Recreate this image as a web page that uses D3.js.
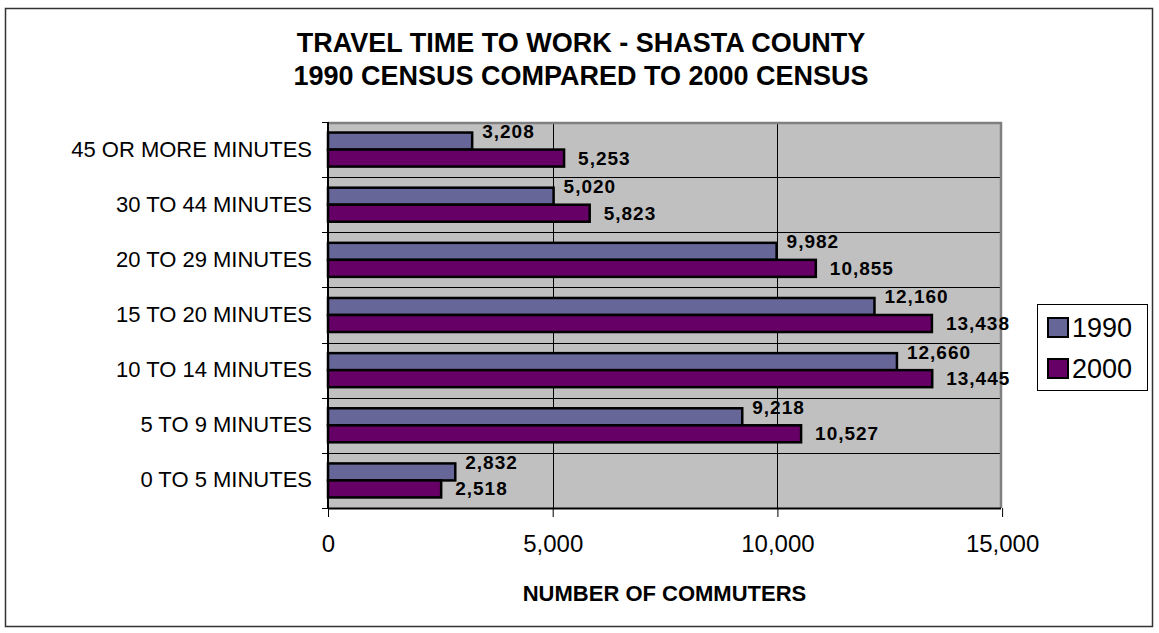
<!DOCTYPE html>
<html>
<head>
<meta charset="utf-8">
<script src="https://cdn.jsdelivr.net/npm/d3@7"></script>
<style>
  html, body { margin: 0; padding: 0; background: #fff; }
  svg { display: block; font-family: "Liberation Sans", Arial, sans-serif; }
</style>
</head>
<body>
<svg id="chart" width="1159" height="633"></svg>
<script>
// ---- data ----
const categories = ["45 OR MORE MINUTES", "30 TO 44 MINUTES", "20 TO 29 MINUTES",
  "15 TO 20 MINUTES", "10 TO 14 MINUTES", "5 TO 9 MINUTES", "0 TO 5 MINUTES"];
const seriesNames = ["1990", "2000"];
const values1990 = [3208, 5020, 9982, 12160, 12660, 9218, 2832];
const values2000 = [5253, 5823, 10855, 13438, 13445, 10527, 2518];
const xTicks = [0, 5000, 10000, 15000];
const titleLines = ["TRAVEL TIME TO WORK - SHASTA COUNTY", "1990 CENSUS COMPARED TO 2000 CENSUS"];
const xAxisTitle = "NUMBER OF COMMUTERS";

const colors = { "1990": "#666699", "2000": "#660066" };

const svg = d3.select("#chart");

// outer border
svg.append("rect").attr("x", 5.5).attr("y", 8.5).attr("width", 1147).attr("height", 618)
  .attr("fill", "#fff").attr("stroke", "#333").attr("stroke-width", 1.5);

const plot = { left: 328, right: 1001, top: 122, bottom: 508 };

const x = d3.scaleLinear().domain([0, 15000]).range([plot.left, plot.left + 3 * 224.7]);
const y = d3.scaleBand().domain(categories).range([plot.top, plot.bottom]).padding(0);
const ySub = d3.scaleBand().domain(seriesNames).range([0, y.bandwidth()]).paddingOuter(0.62).paddingInner(0);

// plot background
svg.append("rect").attr("x", plot.left).attr("y", plot.top)
  .attr("width", plot.right - plot.left).attr("height", plot.bottom - plot.top)
  .attr("fill", "#c0c0c0");

// vertical gridlines
svg.append("g").selectAll("line").data(xTicks.filter(d => d > 0 && d < 15000)).join("line")
  .attr("x1", d => Math.round(x(d)) + 0.5).attr("x2", d => Math.round(x(d)) + 0.5)
  .attr("y1", plot.top).attr("y2", plot.bottom)
  .attr("stroke", "#000").attr("stroke-width", 1);

// horizontal gridlines at category boundaries
const boundaries = categories.slice(1).map(c => y(c));
svg.append("g").selectAll("line").data(boundaries).join("line")
  .attr("x1", plot.left).attr("x2", plot.right)
  .attr("y1", d => Math.round(d) + 0.5).attr("y2", d => Math.round(d) + 0.5)
  .attr("stroke", "#000").attr("stroke-width", 1);

// plot area border (gray, top & right)
svg.append("path")
  .attr("d", `M${plot.left},${plot.top + 1}H${plot.right}V${plot.bottom}`)
  .attr("fill", "none").attr("stroke", "#808080").attr("stroke-width", 2.5);

// bars
const rows = categories.map((c, i) => ({ cat: c, "1990": values1990[i], "2000": values2000[i] }));
const groups = svg.append("g").selectAll("g").data(rows).join("g")
  .attr("transform", d => `translate(0,${y(d.cat)})`);

groups.selectAll("rect").data(d => seriesNames.map(s => ({ s, v: d[s] }))).join("rect")
  .attr("x", x(0))
  .attr("y", d => ySub(d.s))
  .attr("width", d => x(d.v) - x(0))
  .attr("height", ySub.bandwidth())
  .attr("fill", d => colors[d.s])
  .attr("stroke", "#000").attr("stroke-width", 2.5);

// data labels
const fmt = d3.format(",");
groups.selectAll("text").data(d => seriesNames.map(s => ({ s, v: d[s] }))).join("text")
  .attr("x", d => x(d.v) + (d.s === "1990" ? 10 : 14))
  .attr("y", d => d.s === "1990" ? ySub(d.s) - 1 : ySub(d.s) + ySub.bandwidth() / 2)
  .attr("dominant-baseline", "central")
  .attr("font-size", 19).attr("font-weight", "bold").attr("letter-spacing", 1)
  .attr("fill", "#000")
  .text(d => fmt(d.v));

// y axis
const yAxis = d3.axisLeft(y).tickSize(0).tickPadding(16);
const yg = svg.append("g").attr("transform", `translate(${plot.left},0)`).call(yAxis);
yg.select(".domain").remove();
yg.selectAll("text").attr("font-size", 22).attr("font-family", "Liberation Sans, Arial, sans-serif").attr("fill", "#000");
// y axis line and boundary ticks
svg.append("line").attr("x1", plot.left).attr("x2", plot.left)
  .attr("y1", plot.top).attr("y2", plot.bottom).attr("stroke", "#000").attr("stroke-width", 2);
svg.append("g").selectAll("line").data([plot.top, ...boundaries, plot.bottom]).join("line")
  .attr("x1", plot.left - 6).attr("x2", plot.left)
  .attr("y1", d => Math.round(d) + 0.5).attr("y2", d => Math.round(d) + 0.5)
  .attr("stroke", "#000").attr("stroke-width", 1);

// x axis
const xAxis = d3.axisBottom(x).tickValues(xTicks).tickFormat(fmt).tickSize(9).tickPadding(18);
const xg = svg.append("g").attr("transform", `translate(0,${plot.bottom})`).call(xAxis);
xg.select(".domain").attr("d", `M${plot.left},0.5H${plot.right}`).attr("stroke", "#000").attr("stroke-width", 2);
xg.selectAll(".tick line").attr("stroke", "#000");
xg.selectAll("text").attr("font-size", 24).attr("font-family", "Liberation Sans, Arial, sans-serif").attr("fill", "#000");

// x axis title
svg.append("text").attr("x", (plot.left + plot.right) / 2).attr("y", 593)
  .attr("text-anchor", "middle").attr("dominant-baseline", "central")
  .attr("font-size", 22).attr("font-weight", "bold").text(xAxisTitle);

// title
svg.append("g").selectAll("text").data(titleLines).join("text")
  .attr("x", 581).attr("y", (d, i) => 43 + i * 33)
  .attr("text-anchor", "middle").attr("dominant-baseline", "central")
  .attr("font-size", 27).attr("font-weight", "bold").text(d => d);

// legend
const lg = svg.append("g").attr("transform", "translate(1037,304)");
lg.append("rect").attr("x", 0.5).attr("y", 0.5).attr("width", 110).attr("height", 86)
  .attr("fill", "#fff").attr("stroke", "#000").attr("stroke-width", 1);
const li = lg.selectAll("g.item").data(seriesNames).join("g").attr("class", "item")
  .attr("transform", (d, i) => `translate(11,${14 + i * 41})`);
li.append("rect").attr("width", 20).attr("height", 19)
  .attr("fill", d => colors[d]).attr("stroke", "#000").attr("stroke-width", 2);
li.append("text").attr("x", 24).attr("y", 10).attr("dominant-baseline", "central")
  .attr("font-size", 27).text(d => d);
</script>
</body>
</html>
